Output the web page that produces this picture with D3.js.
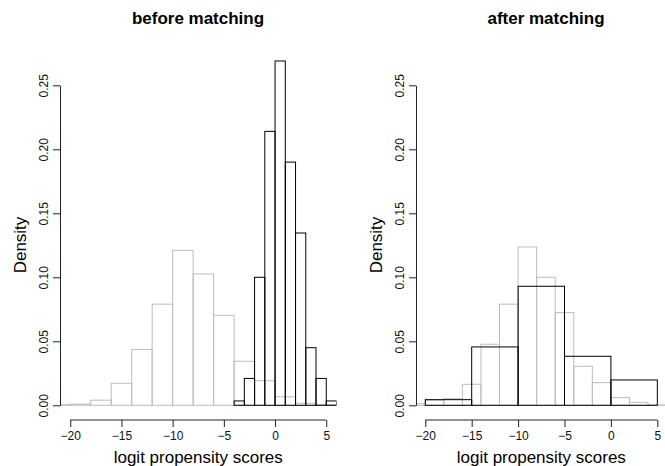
<!DOCTYPE html>
<html>
<head>
<meta charset="utf-8">
<script src="https://cdn.jsdelivr.net/npm/d3@7"></script>
<style>
  body { margin: 0; background: #fff; }
  svg { display: block; font-family: "Liberation Sans", Arial, sans-serif; }
</style>
</head>
<body>
<div id="chart"></div>
<script>
// histogram breaks and densities
const beforeControlBreaks = [-22, -20, -18, -16, -14, -12, -10, -8, -6, -4, -2, 0, 2, 4, 6];
const beforeControlDensity = [0.0005, 0.001, 0.004, 0.0172, 0.0437, 0.079, 0.121, 0.1026, 0.0703, 0.0344, 0.0192, 0.0067, 0.0016, 0.0005];
const beforeTreatedBreaks = [-4, -3, -2, -1, 0, 1, 2, 3, 4, 5, 6];
const beforeTreatedDensity = [0.0034, 0.021, 0.100, 0.214, 0.269, 0.190, 0.1346, 0.045, 0.021, 0.0034];

const afterControlBreaks = [-22, -20, -18, -16, -14, -12, -10, -8, -6, -4, -2, 0, 2, 4, 6];
const afterControlDensity = [0.0012, 0.004, 0.0052, 0.0164, 0.0477, 0.079, 0.1237, 0.100, 0.0724, 0.0305, 0.0177, 0.006, 0.0023, 0.0003];
const afterTreatedBreaks = [-20, -15, -10, -5, 0, 5];
const afterTreatedDensity = [0.0044, 0.0456, 0.093, 0.0383, 0.0198];

const xTicks = [-20, -15, -10, -5, 0, 5];
const yTicks = [0, 0.05, 0.10, 0.15, 0.20, 0.25];
const titles = ["before matching", "after matching"];
const xLabel = "logit propensity scores";
const yLabel = "Density";

const svg = d3.select("#chart").append("svg")
    .attr("width", 665)
    .attr("height", 466);

const panels = [
    { title: titles[0], left: 60, right: 336.5, titleX: 198,
      control: [beforeControlBreaks, beforeControlDensity],
      treated: [beforeTreatedBreaks, beforeTreatedDensity] },
    { title: titles[1], left: 416, right: 666.6, titleX: 546,
      control: [afterControlBreaks, afterControlDensity],
      treated: [afterTreatedBreaks, afterTreatedDensity] }
];

const y = d3.scaleLinear().domain([0, 0.25]).range([405.3, 85.3]);

panels.forEach((p, i) => {
    const x = d3.scaleLinear().domain([-21, 6]).range([p.left, p.right]);
    const g = svg.append("g");

    g.append("clipPath").attr("id", "clip" + i)
        .append("rect")
        .attr("x", p.left).attr("y", 0)
        .attr("width", p.right - p.left).attr("height", 420);

    const bars = g.append("g").attr("clip-path", `url(#clip${i})`);

    function drawHist(series, color) {
        const [breaks, dens] = series;
        const bins = dens.map((d, k) => ({ x0: breaks[k], x1: breaks[k + 1], d }));
        bars.append("g").selectAll("rect")
            .data(bins)
            .enter().append("rect")
            .attr("x", d => x(d.x0))
            .attr("y", d => y(d.d))
            .attr("width", d => x(d.x1) - x(d.x0))
            .attr("height", d => y(0) - y(d.d))
            .attr("fill", "none")
            .attr("stroke", color)
            .attr("stroke-width", 1);
    }

    drawHist(p.control, "#bdbdbd");
    drawHist(p.treated, "#000");

    // x axis
    const xa = g.append("g")
        .attr("transform", "translate(0,420)")
        .call(d3.axisBottom(x).tickValues(xTicks).tickSize(7).tickSizeOuter(0)
            .tickFormat(d => d < 0 ? "\u2212" + Math.abs(d) : d));
    xa.select(".domain").attr("d", `M${x(-20)},0H${x(5)}`).attr("stroke", "#222");
    xa.selectAll(".tick line").attr("stroke", "#222");
    xa.selectAll("text").attr("font-size", 12).attr("font-family", "Liberation Sans, Arial, sans-serif")
        .attr("y", 11).attr("fill", "#111");

    // y axis
    const ya = g.append("g")
        .attr("transform", `translate(${p.left},0)`)
        .call(d3.axisLeft(y).tickValues(yTicks).tickSize(7).tickSizeOuter(0)
            .tickFormat(d3.format(".2f")));
    ya.select(".domain").attr("stroke", "#222");
    ya.selectAll(".tick line").attr("stroke", "#222");
    ya.selectAll("text")
        .attr("font-size", 12).attr("font-family", "Liberation Sans, Arial, sans-serif")
        .attr("fill", "#111")
        .attr("text-anchor", "middle")
        .attr("x", 0).attr("dy", 0)
        .attr("transform", "translate(-12,0) rotate(-90)");

    g.append("text")
        .attr("x", (x(-20) + x(5)) / 2)
        .attr("y", 463)
        .attr("text-anchor", "middle")
        .attr("font-size", 17)
        .text(xLabel);

    g.append("text")
        .attr("transform", `translate(${p.left - 34},245) rotate(-90)`)
        .attr("text-anchor", "middle")
        .attr("font-size", 17)
        .text(yLabel);

    g.append("text")
        .attr("x", p.titleX)
        .attr("y", 24)
        .attr("text-anchor", "middle")
        .attr("font-size", 17)
        .attr("font-weight", "bold")
        .text(p.title);
});
</script>
</body>
</html>
